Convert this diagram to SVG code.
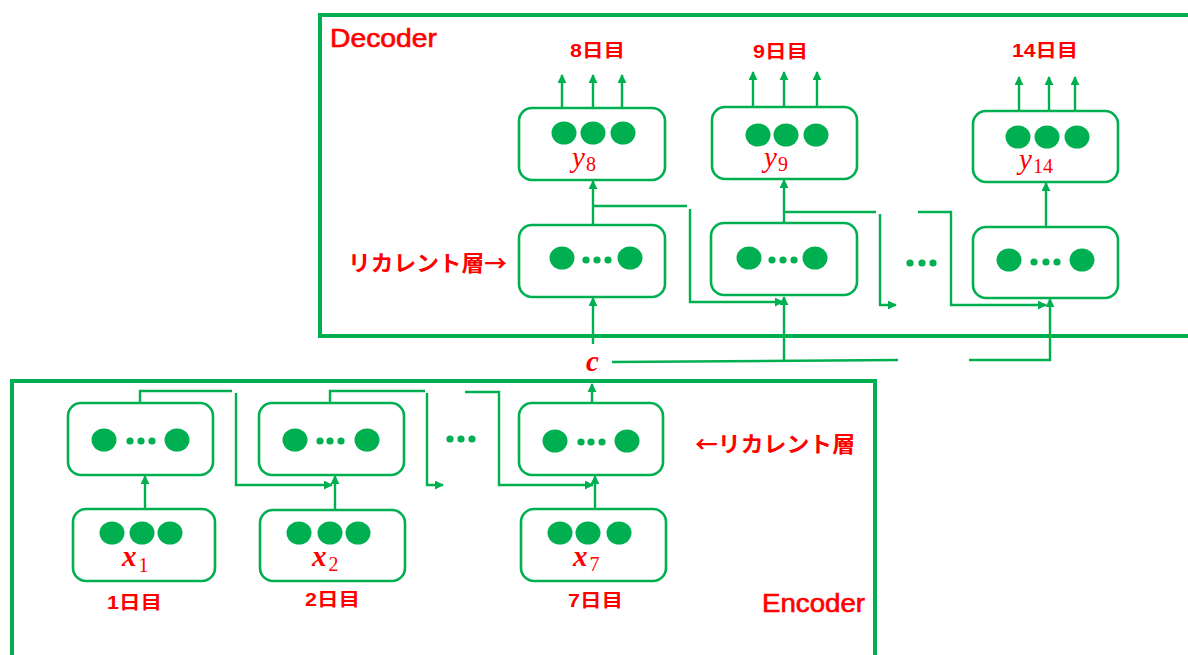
<svg xmlns="http://www.w3.org/2000/svg" width="1188" height="655" viewBox="0 0 1188 655">
  <style>
    .frame { fill: none; stroke: #00b050; stroke-width: 4; }
    .box { fill: #ffffff; stroke: #00b050; stroke-width: 2.6; }
    .dot { fill: #00b050; }
    .wire { fill: none; stroke: #00b050; stroke-width: 2.4; }
    .arr { marker-end: url(#head); }
    .title { font-family: "Liberation Sans", Arial, sans-serif; font-size: 25px; fill: #ff0000; stroke: #ff0000; stroke-width: 0.6; }
    .day { font-family: "Liberation Sans", "Noto Sans CJK JP", sans-serif; font-size: 18px; font-weight: bold; fill: #ff0000; }
    .layer { font-family: "Noto Sans CJK JP", sans-serif; font-size: 22px; font-weight: bold; fill: #ff0000; }
    .var { font-family: "Liberation Serif", "DejaVu Serif", serif; font-style: italic; font-size: 29px; fill: #ff0000; }
    .xvar { font-family: "Liberation Serif", "DejaVu Serif", serif; font-style: italic; font-weight: bold; font-size: 29px; fill: #ff0000; }
    .sub { font-style: normal; font-weight: normal; font-size: 20px; }
  </style>
  <defs>
    <marker id="head" viewBox="0 0 10 10" refX="9" refY="5" markerWidth="9" markerHeight="9" markerUnits="userSpaceOnUse" orient="auto">
      <path d="M0,0 L10,5 L0,10 z" fill="#00b050"/>
    </marker>
  </defs>
  <rect width="1188" height="655" fill="#ffffff"/>

  <!-- frames -->
  <g id="decoder-frame">
    <path class="frame" d="M1192,15 H320 V336 H1192"/>
    <text class="title" x="330" y="47" textLength="107" lengthAdjust="spacingAndGlyphs">Decoder</text>
  </g>
  <g id="encoder-frame">
    <path class="frame" d="M12,660 V381 H875 V660"/>
    <text class="title" x="762" y="612" textLength="103" lengthAdjust="spacingAndGlyphs">Encoder</text>
  </g>

  <!-- connectors -->
  <g id="connectors">
    <!-- decoder outputs -->
    <path class="wire arr" d="M562,108 V75"/>
    <path class="wire arr" d="M593,108 V75"/>
    <path class="wire arr" d="M622,108 V75"/>
    <path class="wire arr" d="M753,107 V72"/>
    <path class="wire arr" d="M784,107 V72"/>
    <path class="wire arr" d="M817,107 V72"/>
    <path class="wire arr" d="M1019,111 V77"/>
    <path class="wire arr" d="M1049,111 V77"/>
    <path class="wire arr" d="M1075,111 V77"/>
    <!-- recurrent to output -->
    <path class="wire arr" d="M593,225 V181"/>
    <path class="wire arr" d="M784,223 V180"/>
    <path class="wire arr" d="M1046,227 V183"/>
    <!-- decoder recurrence -->
    <path class="wire" d="M593,206 H687"/>
    <path class="wire arr" d="M690,209 V302 H783"/>
    <path class="wire" d="M784,212 H876"/>
    <path class="wire arr" d="M880,214 V305 H896"/>
    <path class="wire arr" d="M918,212 H951 V305 H1046"/>
    <!-- context vector c -->
    <path class="wire arr" d="M593,344 V298"/>
    <path class="wire" d="M612,362 L898,360"/>
    <path class="wire arr" d="M784,361 V297"/>
    <path class="wire arr" d="M969,360 H1050 V299"/>
    <!-- encoder inputs -->
    <path class="wire arr" d="M145,509 V476"/>
    <path class="wire arr" d="M335,510 V476"/>
    <path class="wire arr" d="M595,509 V476"/>
    <!-- encoder recurrence -->
    <path class="wire" d="M140,404 V391 H232"/>
    <path class="wire arr" d="M236,393 V485 H332"/>
    <path class="wire" d="M330,404 V391 H425"/>
    <path class="wire arr" d="M427,393 V485 H443"/>
    <path class="wire arr" d="M465,392 H499 V485 H593"/>
    <!-- encoder to c -->
    <path class="wire arr" d="M592,403 V384"/>
  </g>

  <!-- decoder output nodes -->
  <g id="y8">
    <rect class="box" x="519" y="108" width="146" height="72" rx="13"/>
    <ellipse class="dot" cx="564" cy="133" rx="12.5" ry="11.5"/>
    <ellipse class="dot" cx="593" cy="133" rx="12.5" ry="11.5"/>
    <ellipse class="dot" cx="623" cy="133" rx="12.5" ry="11.5"/>
    <text class="var" x="572" y="167">y<tspan class="sub" dx="1" dy="4">8</tspan></text>
  </g>
  <g id="y9">
    <rect class="box" x="712" y="107" width="145" height="72" rx="13"/>
    <ellipse class="dot" cx="758" cy="135" rx="12.5" ry="11.5"/>
    <ellipse class="dot" cx="786" cy="135" rx="12.5" ry="11.5"/>
    <ellipse class="dot" cx="816" cy="135" rx="12.5" ry="11.5"/>
    <text class="var" x="764" y="167">y<tspan class="sub" dx="1" dy="4">9</tspan></text>
  </g>
  <g id="y14">
    <rect class="box" x="973" y="111" width="145" height="71" rx="13"/>
    <ellipse class="dot" cx="1018" cy="137" rx="12.5" ry="11.5"/>
    <ellipse class="dot" cx="1047" cy="137" rx="12.5" ry="11.5"/>
    <ellipse class="dot" cx="1077" cy="137" rx="12.5" ry="11.5"/>
    <text class="var" x="1019" y="169">y<tspan class="sub" dx="1" dy="4">14</tspan></text>
  </g>

  <!-- decoder recurrent nodes -->
  <g id="dec-r8">
    <rect class="box" x="519" y="225" width="146" height="72" rx="13"/>
    <ellipse class="dot" cx="562" cy="258" rx="12.5" ry="11.5"/>
    <circle class="dot" cx="586" cy="260" r="3.6"/>
    <circle class="dot" cx="597" cy="260" r="3.6"/>
    <circle class="dot" cx="608" cy="260" r="3.6"/>
    <ellipse class="dot" cx="630" cy="258" rx="12.5" ry="11.5"/>
  </g>
  <g id="dec-r9">
    <rect class="box" x="711" y="223" width="146" height="72" rx="13"/>
    <ellipse class="dot" cx="749" cy="258" rx="12.5" ry="11.5"/>
    <circle class="dot" cx="772" cy="260" r="3.6"/>
    <circle class="dot" cx="783" cy="260" r="3.6"/>
    <circle class="dot" cx="794" cy="260" r="3.6"/>
    <ellipse class="dot" cx="815" cy="258" rx="12.5" ry="11.5"/>
  </g>
  <g id="dec-r14">
    <rect class="box" x="973" y="227" width="145" height="71" rx="13"/>
    <ellipse class="dot" cx="1009" cy="260" rx="12.5" ry="11.5"/>
    <circle class="dot" cx="1034" cy="262" r="3.6"/>
    <circle class="dot" cx="1046" cy="262" r="3.6"/>
    <circle class="dot" cx="1057" cy="262" r="3.6"/>
    <ellipse class="dot" cx="1082" cy="260" rx="12.5" ry="11.5"/>
  </g>
  <g id="dec-ellipsis">
    <circle class="dot" cx="910" cy="263" r="3.6"/>
    <circle class="dot" cx="922" cy="263" r="3.6"/>
    <circle class="dot" cx="933" cy="263" r="3.6"/>
  </g>

  <!-- encoder recurrent nodes -->
  <g id="enc-r1">
    <rect class="box" x="68" y="403" width="145" height="72" rx="13"/>
    <ellipse class="dot" cx="104" cy="440" rx="12.5" ry="11.5"/>
    <circle class="dot" cx="130" cy="441" r="3.6"/>
    <circle class="dot" cx="141" cy="441" r="3.6"/>
    <circle class="dot" cx="152" cy="441" r="3.6"/>
    <ellipse class="dot" cx="177" cy="440" rx="12.5" ry="11.5"/>
  </g>
  <g id="enc-r2">
    <rect class="box" x="259" y="403" width="145" height="72" rx="13"/>
    <ellipse class="dot" cx="295" cy="440" rx="12.5" ry="11.5"/>
    <circle class="dot" cx="320" cy="441" r="3.6"/>
    <circle class="dot" cx="330" cy="441" r="3.6"/>
    <circle class="dot" cx="341" cy="441" r="3.6"/>
    <ellipse class="dot" cx="367" cy="440" rx="12.5" ry="11.5"/>
  </g>
  <g id="enc-r7">
    <rect class="box" x="519" y="403" width="144" height="72" rx="13"/>
    <ellipse class="dot" cx="555" cy="441" rx="12.5" ry="11.5"/>
    <circle class="dot" cx="581" cy="442" r="3.6"/>
    <circle class="dot" cx="591" cy="442" r="3.6"/>
    <circle class="dot" cx="602" cy="442" r="3.6"/>
    <ellipse class="dot" cx="627" cy="441" rx="12.5" ry="11.5"/>
  </g>
  <g id="enc-ellipsis">
    <circle class="dot" cx="450" cy="439" r="3.6"/>
    <circle class="dot" cx="461" cy="439" r="3.6"/>
    <circle class="dot" cx="472" cy="439" r="3.6"/>
  </g>

  <!-- encoder input nodes -->
  <g id="x1">
    <rect class="box" x="73" y="509" width="142" height="72" rx="13"/>
    <ellipse class="dot" cx="112" cy="533" rx="12.5" ry="11.5"/>
    <ellipse class="dot" cx="142" cy="533" rx="12.5" ry="11.5"/>
    <ellipse class="dot" cx="170" cy="533" rx="12.5" ry="11.5"/>
    <text class="xvar" x="122" y="566">x<tspan class="sub" dx="2" dy="6">1</tspan></text>
  </g>
  <g id="x2">
    <rect class="box" x="260" y="510" width="145" height="71" rx="13"/>
    <ellipse class="dot" cx="299" cy="533" rx="12.5" ry="11.5"/>
    <ellipse class="dot" cx="330" cy="533" rx="12.5" ry="11.5"/>
    <ellipse class="dot" cx="358" cy="533" rx="12.5" ry="11.5"/>
    <text class="xvar" x="312" y="566">x<tspan class="sub" dx="2" dy="5">2</tspan></text>
  </g>
  <g id="x7">
    <rect class="box" x="521" y="509" width="145" height="72" rx="13"/>
    <ellipse class="dot" cx="560" cy="533" rx="12.5" ry="11.5"/>
    <ellipse class="dot" cx="588" cy="533" rx="12.5" ry="11.5"/>
    <ellipse class="dot" cx="619" cy="533" rx="12.5" ry="11.5"/>
    <text class="xvar" x="573" y="566">x<tspan class="sub" dx="2" dy="5">7</tspan></text>
  </g>

  <!-- context vector label -->
  <g id="c">
    <text class="xvar" x="586" y="371" font-size="21">c</text>
  </g>

  <!-- labels -->
  <g id="labels">
    <text class="day" x="570" y="57" textLength="55" lengthAdjust="spacingAndGlyphs">8日目</text>
    <text class="day" x="753" y="58" textLength="55" lengthAdjust="spacingAndGlyphs">9日目</text>
    <text class="day" x="1012" y="57" textLength="66" lengthAdjust="spacingAndGlyphs">14日目</text>
    <text class="day" x="107" y="609" textLength="55" lengthAdjust="spacingAndGlyphs">1日目</text>
    <text class="day" x="305" y="606" textLength="55" lengthAdjust="spacingAndGlyphs">2日目</text>
    <text class="day" x="568" y="607" textLength="55" lengthAdjust="spacingAndGlyphs">7日目</text>
    <text class="layer" x="348" y="271" textLength="159" lengthAdjust="spacingAndGlyphs">リカレント層→</text>
    <text class="layer" x="695" y="452" textLength="160" lengthAdjust="spacingAndGlyphs">←リカレント層</text>
  </g>
</svg>
